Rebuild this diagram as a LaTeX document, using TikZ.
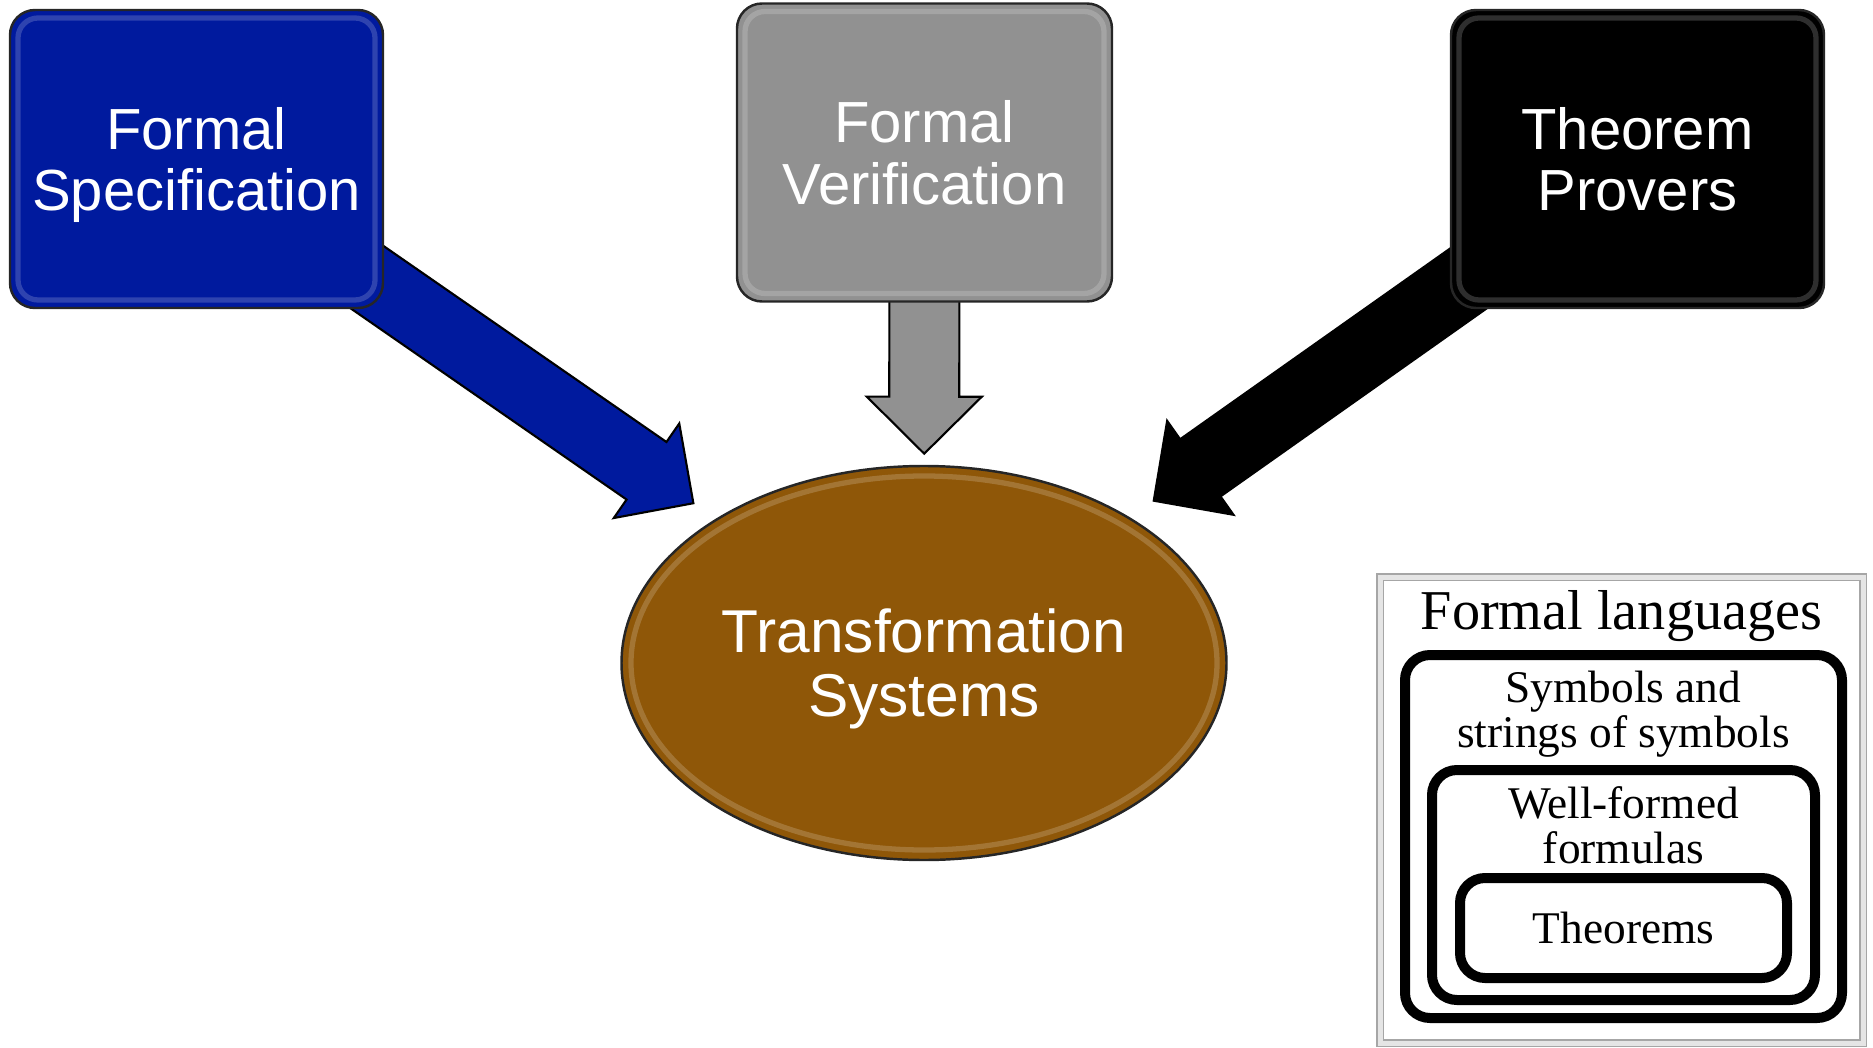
\documentclass[tikz,border=0pt]{standalone}
\usepackage{fontspec}
\newfontfamily\arialfont{Liberation Sans}
\newfontfamily\timesfont{Liberation Serif}
\usepackage{tikz}
\usetikzlibrary{positioning,backgrounds,calc,shapes.geometric}
\definecolor{specblue}{RGB}{0,26,158}
\definecolor{verifgrey}{RGB}{145,145,145}
\definecolor{transbrown}{RGB}{143,87,8}

% block arrow from node #1 towards node #2, tip at fraction #3, fill #4
\newcommand{\blockarrow}[4]{%
  \coordinate (tip) at ($(#1)!#3!(#2)$);
  \coordinate (neck) at ($(tip)!0.57cm!(#1)$);
  \filldraw[fleche, fill=#4]
    ($(#1)!0.35cm!90:(tip)$) -- ($(neck)!0.35cm!90:(tip)$)
    -- ($(neck)!0.575cm!90:(tip)$) -- (tip)
    -- ($(neck)!0.575cm!-90:(tip)$) -- ($(neck)!0.35cm!-90:(tip)$)
    -- ($(#1)!0.35cm!-90:(tip)$) -- cycle;
}

\begin{document}
\begin{tikzpicture}
                \tikzset{
                  topic/.style={
                    draw=black!85,line width=0.7pt,align=center,text depth=0pt,
                    font=\arialfont\fontsize{16.5}{17.4}\selectfont,text=white,
                  },
                  topic box/.style={topic,rounded corners=0.25cm,
                    minimum width=3.73cm,minimum height=2.98cm,
                    path picture={\draw[white,opacity=0.18,line width=1.5pt,rounded corners=0.2cm]
                      ([shift={(0.08,-0.08)}]path picture bounding box.north west) rectangle
                      ([shift={(-0.08,0.08)}]path picture bounding box.south east);},
                  },
                  topic oval/.style={topic,ellipse,inner sep=0pt,
                    minimum width=6.05cm,minimum height=3.94cm,
                    font=\arialfont\fontsize{17.2}{18.2}\selectfont,
                    path picture={\draw[white,opacity=0.18,line width=1.5pt]
                      (path picture bounding box.center) ellipse [x radius=2.93cm,y radius=1.87cm];},
                  },
                  fleche/.style={draw=black,line width=0.6pt,line join=miter},
                  lang frame/.style={draw=gray!70,double=gray!20,double distance=0.05cm,
                    fill=white,minimum width=4.83cm,minimum height=4.66cm},
                  lang set/.style={draw,line width=0.1cm,rounded corners=0.25cm},
                  lang text/.style={align=center,inner sep=0pt,
                    font=\timesfont\fontsize{12.9}{12.8}\selectfont},
                  }
                \useasboundingbox (0,0) rectangle (18.73,10.47);
                \node[topic box, fill=specblue]  (spec) at (1.965,8.88) {Formal\\Specification};
                \node[topic box, fill=verifgrey, minimum width=3.75cm] (verif) at (9.245,8.945) {Formal\\Verification};
                \node[topic box, fill=black] (provers) at (16.375,8.88) {Theorem\\Provers};
                \node[topic oval, fill=transbrown] (trans) at (9.24,3.84) {Transformation\\Systems};

                \begin{scope}[on background layer]
                    \blockarrow{spec}{trans}{0.683}{specblue}
                    \blockarrow{verif}{trans}{0.59}{verifgrey}
                    \blockarrow{provers}{trans}{0.678}{black}
                \end{scope}

                % formal languages inset
                \node[lang frame] (langs) at (16.215,2.37) {};
                \node[lang text, anchor=base, font=\timesfont\fontsize{16}{17}\selectfont] (title)
                    at ($(langs.north)+(0,-0.53)$) {Formal languages};
                \node[lang set, minimum width=4.37cm, minimum height=3.63cm] (sym) at (16.235,2.105) {};
                \node[lang set, minimum width=3.83cm, minimum height=2.30cm] (wff) at (16.235,1.62) {};
                \node[lang set, minimum width=3.27cm, minimum height=1.00cm, lang text] (thm) at (16.235,1.19) {Theorems};
                \node[lang text] (symtext) at ($(sym.north)+(0,-0.64)$) {Symbols and\\strings of symbols};
                \node[lang text] (wfftext) at ($(wff.north)+(0,-0.60)$) {Well-formed\\formulas};
              \end{tikzpicture}
\end{document}
